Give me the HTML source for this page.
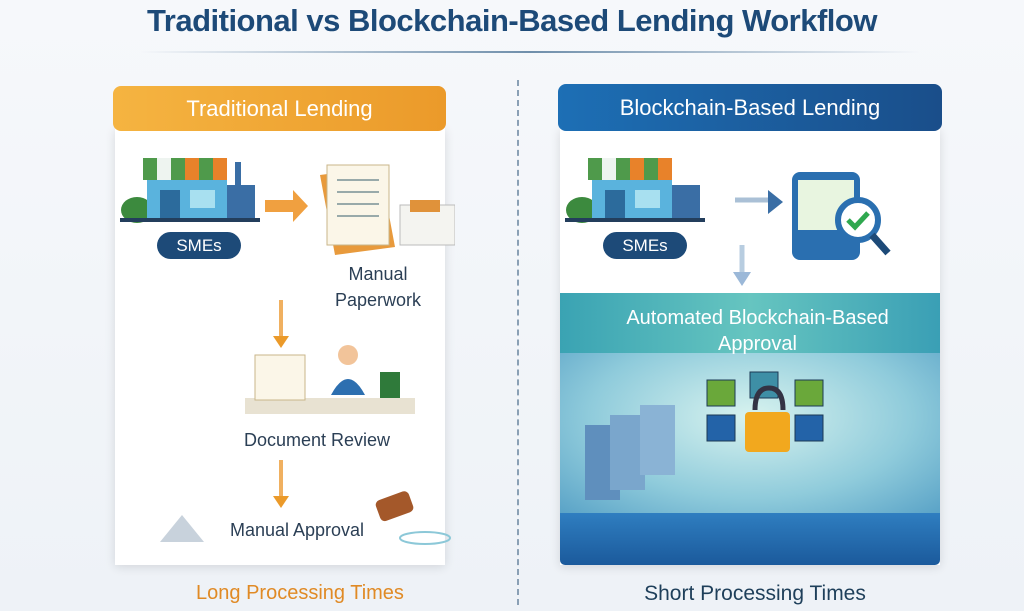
<!DOCTYPE html>
<html><head><meta charset="utf-8"><style>
body{margin:0;width:1024px;height:611px;overflow:hidden;background:linear-gradient(180deg,#f6f8fb,#eef2f7);font-family:"Liberation Sans",sans-serif;position:relative}
.a{position:absolute}
.t{white-space:nowrap;text-align:center}
</style></head><body>
<div class="a t" style="left:0;width:1024px;top:3px;font-size:31px;font-weight:bold;color:#1d4a78;letter-spacing:-0.5px">Traditional vs Blockchain-Based Lending Workflow</div>
<div class="a" style="left:140px;top:51px;width:780px;height:2px;background:linear-gradient(90deg,rgba(90,120,150,0),#6f8fab,rgba(90,120,150,0))"></div>
<div class="a" style="left:517px;top:80px;height:525px;border-left:2px dashed #8aa0b5"></div>

<!-- left -->
<div class="a" style="left:115px;top:128px;width:330px;height:437px;background:#fff;box-shadow:0 2px 10px rgba(0,0,0,.12)"></div>
<div class="a t" style="left:113px;top:86px;width:333px;height:45px;line-height:45px;border-radius:8px;background:linear-gradient(90deg,#f5b441,#eb9a2a);color:#fff;font-size:22px">Traditional Lending</div>
<svg class="a" style="left:115px;top:150px" width="340" height="410">
 <ellipse cx="22" cy="60" rx="16" ry="13" fill="#3c8a3e"/>
 <rect x="32" y="25" width="80" height="45" fill="#5ab3dd"/>
 <rect x="28" y="8" width="84" height="22" fill="#4f9a4b"/><rect x="42" y="8" width="14" height="22" fill="#eef4f0"/><rect x="70" y="8" width="14" height="22" fill="#e8822a"/><rect x="98" y="8" width="14" height="22" fill="#e8822a"/>
 <rect x="112" y="35" width="28" height="35" fill="#3a6ea5"/><rect x="120" y="12" width="6" height="25" fill="#3a6ea5"/>
 <rect x="45" y="40" width="20" height="28" fill="#2c6b9c"/><rect x="75" y="40" width="25" height="18" fill="#a8e0f0"/>
 <rect x="5" y="68" width="140" height="4" fill="#233e5c"/>
 <path d="M150 50 h28 v-10 l15 16 -15 16 v-10 h-28z" fill="#f0a040"/>
 <path d="M205 25 l60 -8 15 80 -60 8z" fill="#e89a3c"/>
 <rect x="212" y="15" width="62" height="80" fill="#fbf6e8" stroke="#c9b68a"/>
 <g stroke="#9aa" stroke-width="2"><line x1="222" y1="30" x2="264" y2="30"/><line x1="222" y1="42" x2="264" y2="42"/><line x1="222" y1="54" x2="264" y2="54"/><line x1="222" y1="66" x2="264" y2="66"/></g>
 <rect x="285" y="55" width="55" height="40" fill="#f4f4f0" stroke="#bbb"/>
 <rect x="295" y="50" width="30" height="12" fill="#e0923a"/>
 <path d="M166 150 v40" stroke="#f0b060" stroke-width="4"/><path d="M158 186 l8 12 8 -12z" fill="#eb9a2a"/>
 <path d="M166 310 v40" stroke="#f0b060" stroke-width="4"/><path d="M158 346 l8 12 8 -12z" fill="#eb9a2a"/>
 <rect x="130" y="248" width="170" height="16" fill="#e8e2d2"/>
 <rect x="140" y="205" width="50" height="45" fill="#fbf6e8" stroke="#c9b68a"/>
 <circle cx="233" cy="205" r="10" fill="#f2c49a"/><path d="M216 245 q17 -32 34 0z" fill="#2d6fb0"/>
 <rect x="265" y="222" width="20" height="26" fill="#2f7a3a"/>
 <path d="M45 392 l22 -27 22 27z" fill="#c8d2dc"/>
 <rect x="262" y="345" width="35" height="22" rx="5" fill="#a4582a" transform="rotate(-20 280 356)"/>
 <ellipse cx="310" cy="388" rx="25" ry="6" fill="none" stroke="#8cc8d8" stroke-width="2"/>
</svg>
<div class="a t" style="left:157px;top:232px;width:84px;height:27px;line-height:27px;border-radius:14px;background:#1d4a78;color:#fff;font-size:17px">SMEs</div>
<div class="a t" style="left:318px;top:261px;width:120px;font-size:18px;color:#2b3f55;line-height:26px">Manual<br>Paperwork</div>
<div class="a t" style="left:217px;top:430px;width:200px;font-size:18px;color:#2b3f55">Document Review</div>
<div class="a t" style="left:197px;top:520px;width:200px;font-size:18px;color:#2b3f55">Manual Approval</div>
<div class="a t" style="left:130px;top:582px;width:340px;font-size:20px;color:#e08a25">Long Processing Times</div>

<!-- right -->
<div class="a" style="left:560px;top:128px;width:380px;height:437px;background:#fff;box-shadow:0 2px 10px rgba(0,0,0,.12)"></div>
<div class="a" style="left:560px;top:293px;width:380px;height:60px;background:linear-gradient(90deg,#3aa3b3,#66c5c0,#3a9fb5)"></div>
<div class="a" style="left:560px;top:353px;width:380px;height:160px;background:radial-gradient(ellipse at 50% 40%,#d8f3ef,#8fcbdb 60%,#5aa3c7)"></div>
<div class="a" style="left:560px;top:513px;width:380px;height:52px;background:linear-gradient(180deg,#2f7ec0,#1b5a9c);border-radius:0 0 5px 5px"></div>
<div class="a t" style="left:558px;top:84px;width:384px;height:47px;line-height:47px;border-radius:8px;background:linear-gradient(90deg,#1d6fb5,#1a4e8a);color:#fff;font-size:22px">Blockchain-Based Lending</div>
<svg class="a" style="left:560px;top:150px" width="380" height="360">
 <ellipse cx="22" cy="60" rx="16" ry="13" fill="#3c8a3e"/>
 <rect x="32" y="25" width="80" height="45" fill="#5ab3dd"/>
 <rect x="28" y="8" width="84" height="22" fill="#4f9a4b"/><rect x="42" y="8" width="14" height="22" fill="#eef4f0"/><rect x="70" y="8" width="14" height="22" fill="#e8822a"/><rect x="98" y="8" width="14" height="22" fill="#e8822a"/>
 <rect x="112" y="35" width="28" height="35" fill="#3a6ea5"/>
 <rect x="45" y="40" width="20" height="28" fill="#2c6b9c"/><rect x="75" y="40" width="25" height="18" fill="#a8e0f0"/>
 <rect x="5" y="68" width="140" height="4" fill="#233e5c"/>
 <path d="M175 50 h35" stroke="#aac0d6" stroke-width="5"/><path d="M208 40 l15 12 -15 12z" fill="#3a6ea5"/>
 <rect x="232" y="22" width="68" height="88" rx="8" fill="#2a6fb0"/><rect x="238" y="30" width="56" height="50" fill="#e8f5e0"/>
 <circle cx="298" cy="70" r="20" fill="#fff" stroke="#2a6fb0" stroke-width="6"/><path d="M288 70 l7 7 13 -14" stroke="#2fa84f" stroke-width="5" fill="none"/><path d="M312 85 l16 18" stroke="#1d4a78" stroke-width="7"/>
 <path d="M182 95 v30" stroke="#b8cde0" stroke-width="5"/><path d="M173 122 l9 14 9 -14z" fill="#9bb8d8"/>
 <g stroke="#1c3a55" stroke-width="1">
 <rect x="147" y="230" width="28" height="26" fill="#6aa83a"/><rect x="190" y="222" width="28" height="26" fill="#3e8fa6"/><rect x="235" y="230" width="28" height="26" fill="#6aa83a"/>
 <rect x="147" y="265" width="28" height="26" fill="#2363a8"/><rect x="235" y="265" width="28" height="26" fill="#2363a8"/>
 </g>
 <path d="M195 280 q0 -22 14 -22 q14 0 14 22" transform="translate(0,-20)" stroke="#334" stroke-width="5" fill="none"/>
 <rect x="185" y="262" width="45" height="40" rx="4" fill="#f2a81e"/>
 <rect x="25" y="275" width="35" height="75" fill="#5f8fbd"/><rect x="50" y="265" width="35" height="75" fill="#7aa6cc"/><rect x="80" y="255" width="35" height="70" fill="#8ab3d5"/>
</svg>
<div class="a t" style="left:603px;top:232px;width:84px;height:27px;line-height:27px;border-radius:14px;background:#1d4a78;color:#fff;font-size:17px">SMEs</div>
<div class="a t" style="left:560px;top:305px;width:395px;font-size:20px;line-height:26px;color:#fff">Automated Blockchain-Based<br>Approval</div>
<div class="a t" style="left:580px;top:582px;width:350px;font-size:21px;color:#1e3f5a">Short Processing Times</div>
</body></html>
